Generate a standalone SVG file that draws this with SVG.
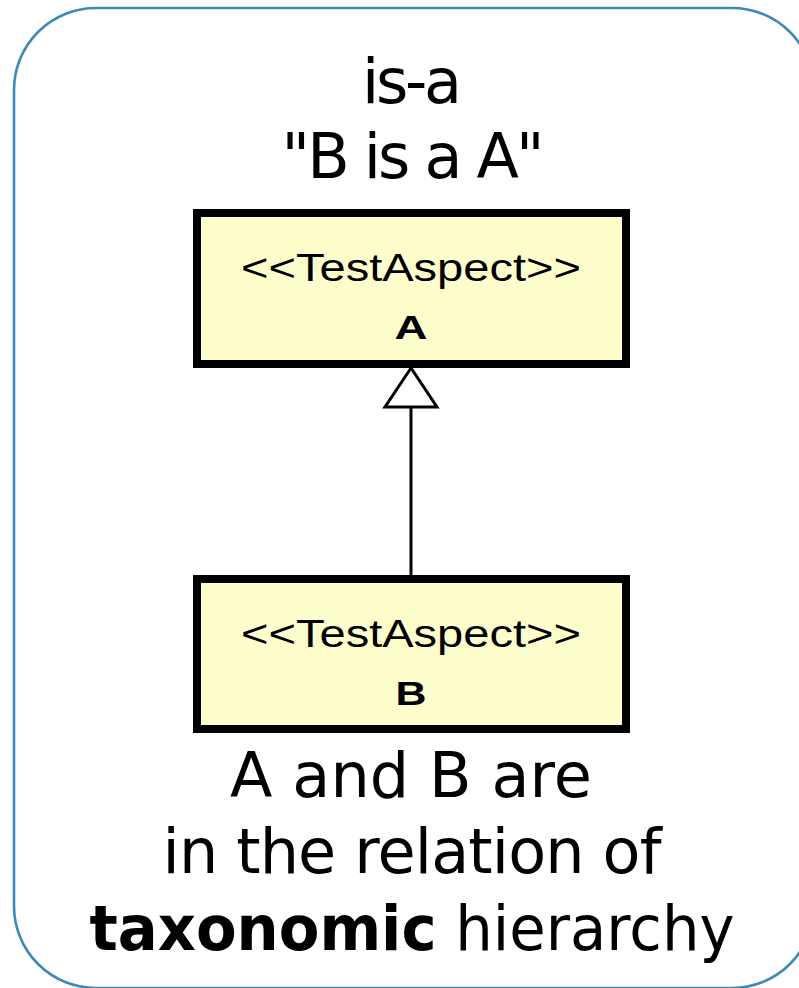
<svg xmlns="http://www.w3.org/2000/svg" width="799" height="988" viewBox="0 0 799 988">
  <style>
    .frame { fill: #ffffff; stroke: #3f89b6; stroke-width: 2.6; }
    .caption { font-family: "DejaVu Sans", "Liberation Sans", sans-serif; font-size: 62px; fill: #000000; text-anchor: middle; }
    .cls { fill: #fefecc; stroke: #000000; stroke-width: 8; }
    .stereo { font-family: "Liberation Sans", Arial, sans-serif; font-size: 38px; fill: #000000; text-anchor: middle; }
    .name { font-family: "Liberation Sans", Arial, sans-serif; font-size: 34px; font-weight: bold; fill: #000000; text-anchor: middle; }
    .edge { stroke: #000000; stroke-width: 3; fill: none; }
    .head { fill: #ffffff; stroke: #000000; stroke-width: 3; stroke-linejoin: miter; }
  </style>

  <!-- rounded panel, running off the right and bottom edges -->
  <rect class="frame" x="14" y="8" width="800" height="980" rx="82" ry="82"/>

  <!-- heading -->
  <text class="caption" x="412" y="103" textLength="100">is-a</text>
  <text class="caption" x="413" y="178" textLength="263">"B is a A"</text>

  <!-- generalization connector: B to A -->
  <g id="connectors">
    <line class="edge" x1="411" y1="407" x2="411" y2="575"/>
    <polygon class="head" points="411,368 385,407 437,407"/>
  </g>

  <g id="node-A">
    <rect class="cls" x="197" y="213" width="429" height="151"/>
    <text class="stereo" x="411" y="281" textLength="340" lengthAdjust="spacingAndGlyphs">&lt;&lt;TestAspect&gt;&gt;</text>
    <text class="name" x="411" y="339" textLength="33" lengthAdjust="spacingAndGlyphs">A</text>
  </g>

  <g id="node-B">
    <rect class="cls" x="197" y="579" width="429" height="150"/>
    <text class="stereo" x="411" y="647" textLength="340" lengthAdjust="spacingAndGlyphs">&lt;&lt;TestAspect&gt;&gt;</text>
    <text class="name" x="411" y="705" textLength="31" lengthAdjust="spacingAndGlyphs">B</text>
  </g>

  <!-- explanation -->
  <text class="caption" x="411" y="797" textLength="362">A and B are</text>
  <text class="caption" x="412" y="873" textLength="499">in the relation of</text>
  <text class="caption" x="412" y="950" textLength="645" lengthAdjust="spacingAndGlyphs"><tspan font-weight="bold">taxonomic</tspan> hierarchy</text>
</svg>
